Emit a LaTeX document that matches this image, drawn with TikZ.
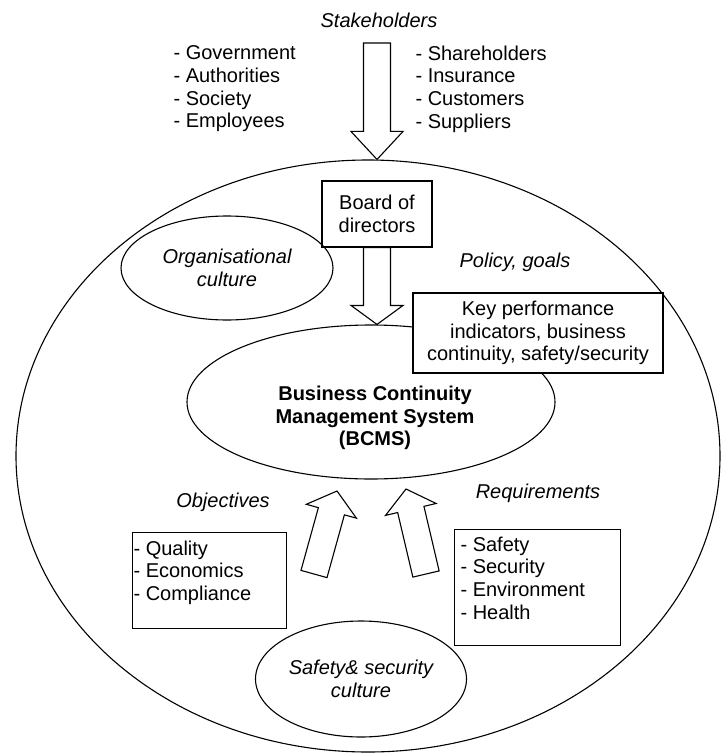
\documentclass[tikz,border=0pt]{standalone}
\usepackage{fontspec}
\setmainfont{Liberation Sans}
\usetikzlibrary{shapes.geometric,calc}
\tikzset{
  box/.style={draw,fill=white,align=center,inner sep=0pt},
  ell/.style={draw,ellipse,inner sep=0pt,align=center},
  lbl/.style={font=\fontsize{20}{22.7}\selectfont\itshape},
  lst/.style={align=left,inner sep=0pt},
  fatarrow/.style={draw,fill=white}
}
% block arrow: [head length]{tail}{tip}
\newcommand\fatarrow[3][21]{%
  \coordinate (hb) at ($(#3)!#1pt!(#2)$);
  \draw[fatarrow] ($(#2)!13.5pt!90:(#3)$) -- ($(hb)!13.5pt!90:(#3)$) -- ($(hb)!26pt!90:(#3)$) -- (#3)
    -- ($(hb)!26pt!-90:(#3)$) -- ($(hb)!13.5pt!-90:(#3)$) -- ($(#2)!13.5pt!-90:(#3)$) -- cycle;}
\begin{document}
\begin{tikzpicture}[x=1pt,y=-1pt,line width=1.1pt,font=\fontsize{20}{22.7}\selectfont]
  \useasboundingbox (0,0) rectangle (720,754);
  \node[ell,minimum width=704pt,minimum height=592pt] (org) at (368,456) {};
  \node[lbl] (stk) at (379,20) {Stakeholders};
  \node[lst,anchor=west] (stkleft) at (173,89) {- Government\\- Authorities\\- Society\\- Employees};
  \node[lst,anchor=west] (stkright) at (415,89) {- Shareholders\\- Insurance\\- Customers\\- Suppliers};
  \node[box,minimum width=110pt,minimum height=66pt] (board) at (377,214) {Board of\\directors};
  \node[ell,lbl,minimum width=212pt,minimum height=104pt] (orgcult) at (227,268) {Organisational\\culture};
  \node[lbl] (policy) at (515,262) {Policy, goals};
  \node[ell,minimum width=368pt,minimum height=154pt] (bcms) at (371,402) {};
  \node[font=\fontsize{20}{22.7}\selectfont\bfseries,align=center] (bcmstext) at (375,418)
    {Business Continuity\\Management System\\(BCMS)};
  \node[box,minimum width=250pt,minimum height=80pt] (kpi) at (538,333)
    {Key performance\\indicators, business\\continuity, safety/security};
  \node[lbl] (obj) at (223,502) {Objectives};
  \node[lbl] (req) at (538,493) {Requirements};
  \node[box,minimum width=154pt,minimum height=96pt,anchor=north west] (objbox) at (132,532) {};
  \node[lst,anchor=north west] (objlist) at (133,540) {- Quality\\- Economics\\- Compliance};
  \node[box,minimum width=166pt,minimum height=116pt,anchor=north west] (reqbox) at (454,529) {};
  \node[lst,anchor=north west] (reqlist) at (460,536) {- Safety\\- Security\\- Environment\\- Health};
  \node[ell,lbl,minimum width=211pt,minimum height=116pt] (safecult) at (361,679) {Safety\& security\\culture};

  \coordinate (stktail) at (377,43);
  \coordinate (stktip) at (org.north -| board);
  \coordinate (bcmstop) at (board.south |- bcms.north);
  \coordinate (objtail) at (314,574);
  \coordinate (objtip) at (337,491);
  \coordinate (reqtail) at (426,574);
  \coordinate (reqtip) at (406,489);
  \fatarrow[28]{stktail}{stktip}
  \fatarrow[19]{board.south}{bcmstop}
  \foreach \a/\b in {objtail/objtip,reqtail/reqtip} \fatarrow{\a}{\b};
\end{tikzpicture}
\end{document}
